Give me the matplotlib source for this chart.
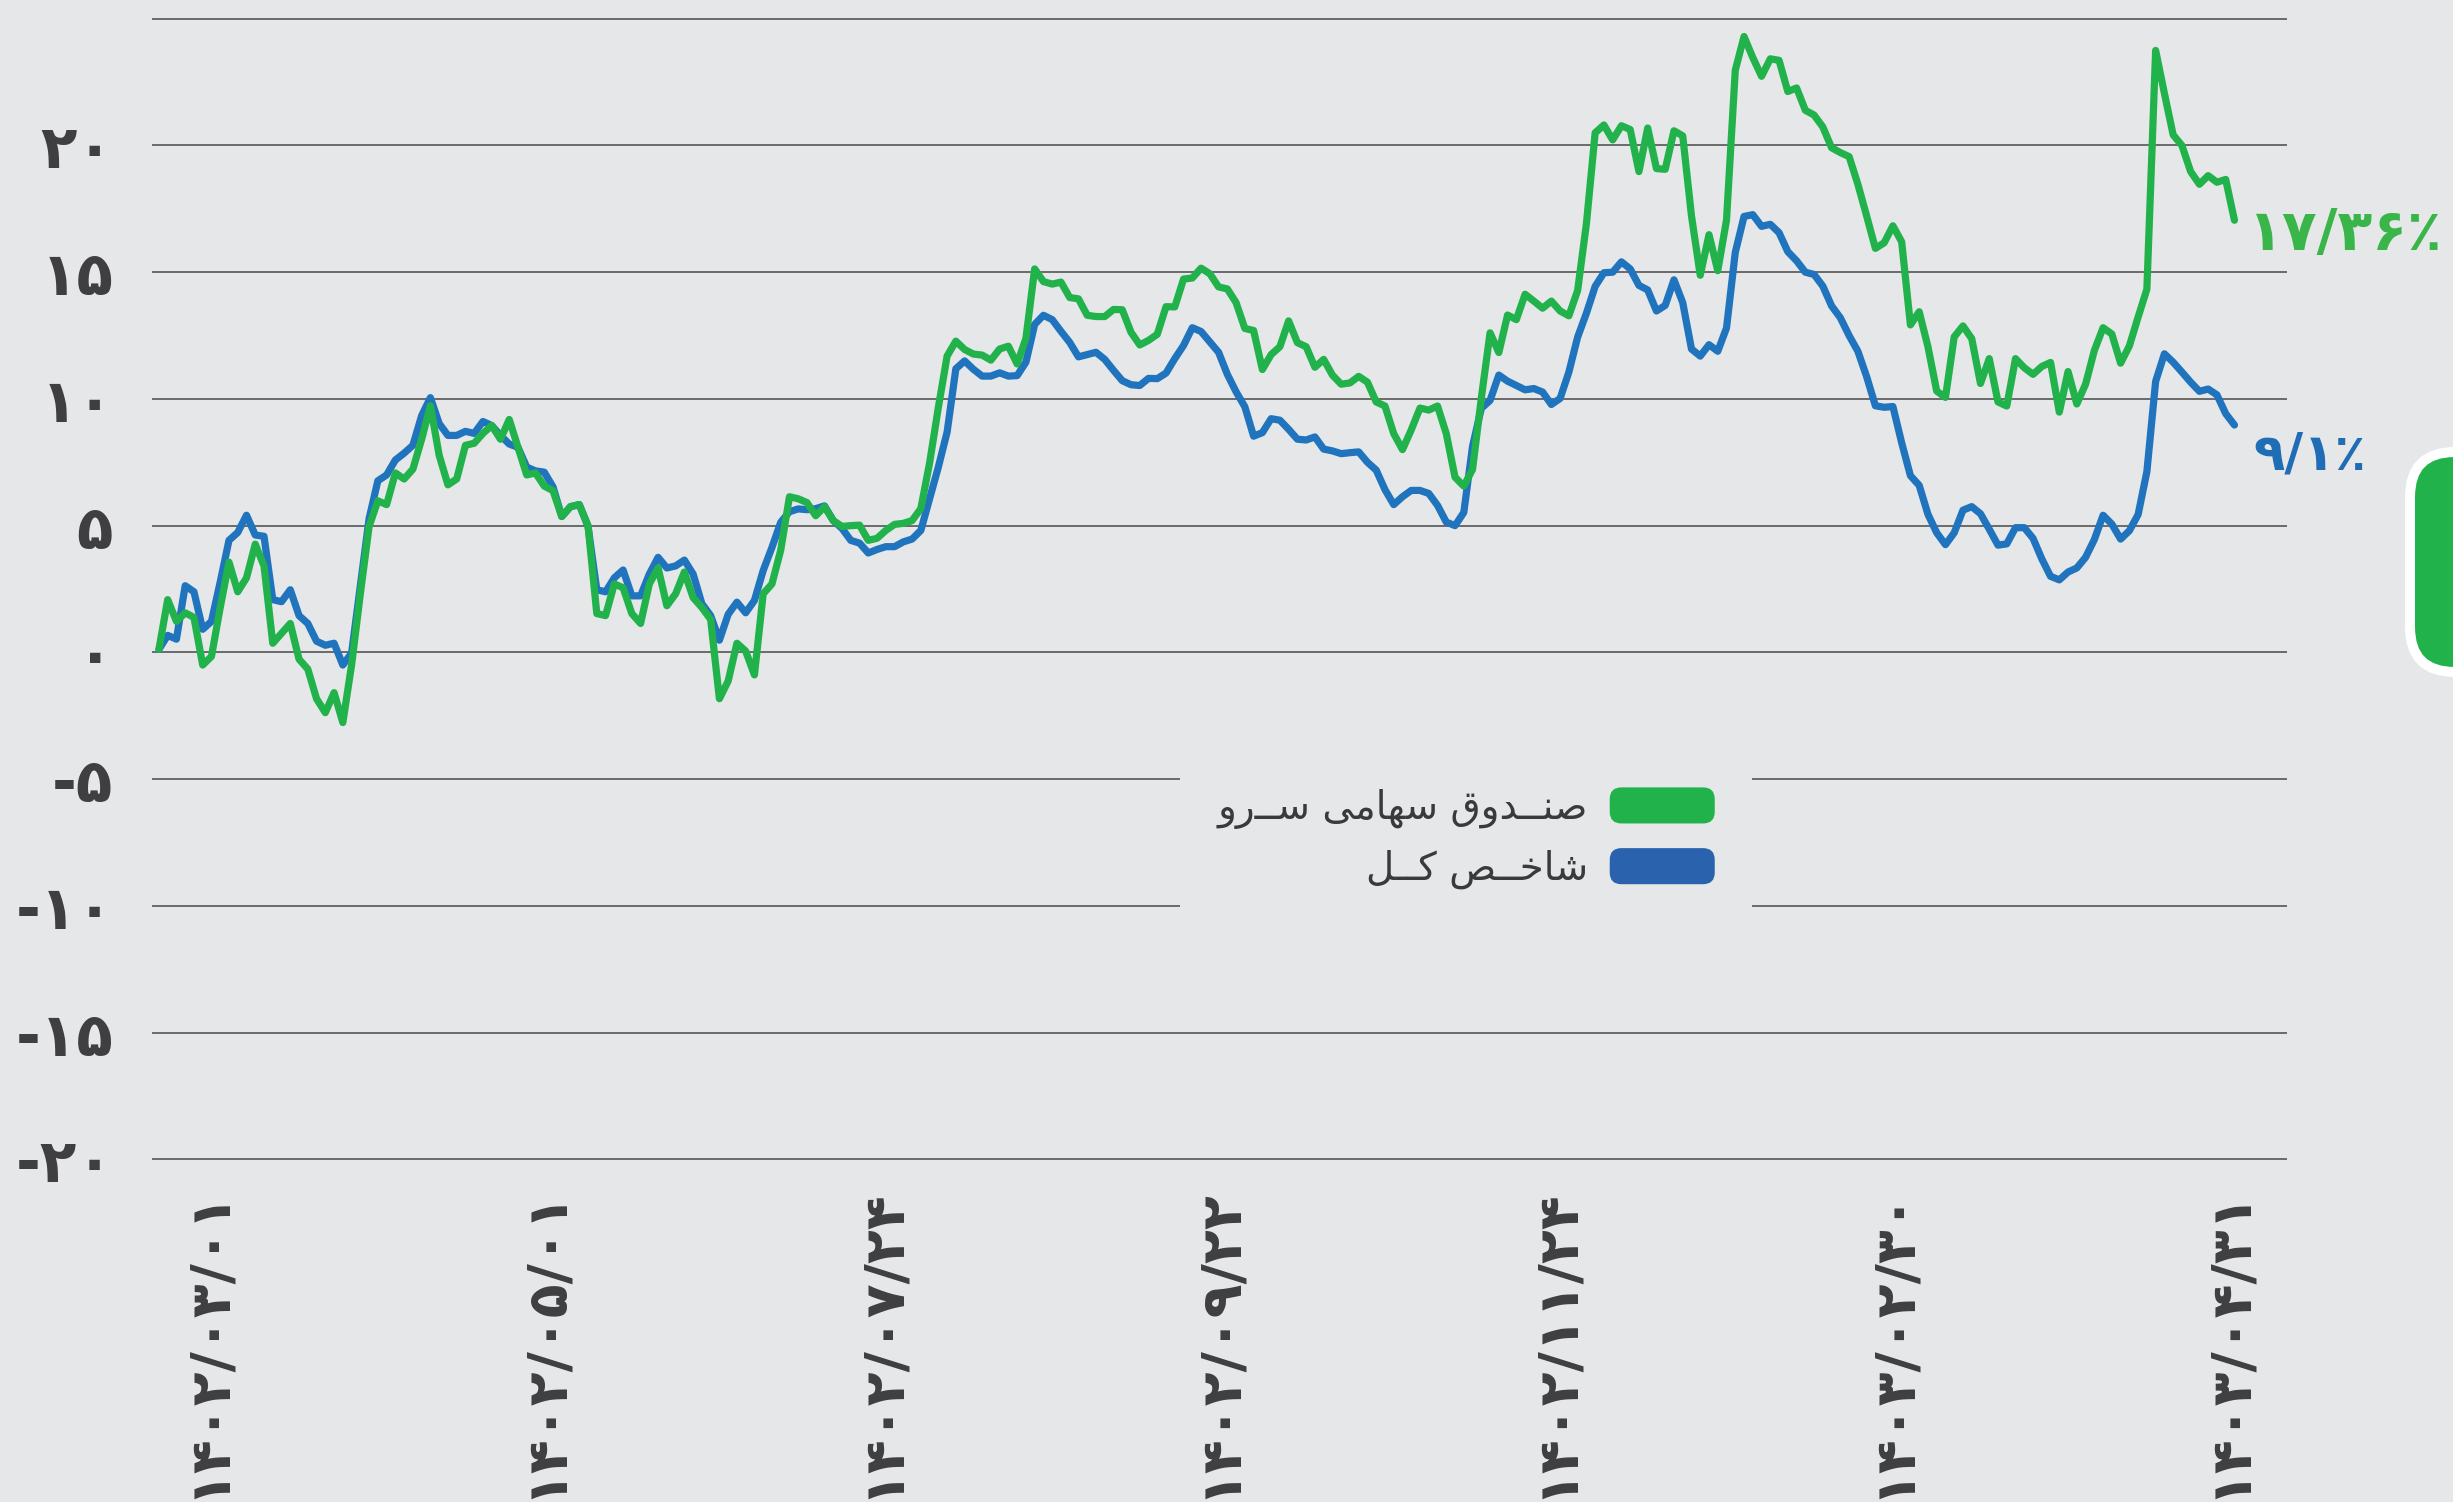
import numpy as np
import matplotlib
matplotlib.use("Agg")
import matplotlib.pyplot as plt
from matplotlib.patches import FancyBboxPatch, Patch
from matplotlib.legend_handler import HandlerPatch
from matplotlib.transforms import IdentityTransform

# ---------------- data ----------------
sarv = [
    0.12, 2.08, 1.22, 1.56, 1.38, -0.5, -0.16, 1.77, 3.56, 2.39,
    2.94, 4.27, 3.41, 0.36, 0.75, 1.14, -0.27, -0.66, -1.83, -2.38,
    -1.59, -2.77, -0.5, 2.31, 4.97, 5.98, 5.83, 7.08, 6.84, 7.23,
    8.41, 9.73, 7.78, 6.61, 6.84, 8.17, 8.25, 8.64, 8.95, 8.41,
    9.19, 8.09, 7.0, 7.08, 6.56, 6.38, 5.36, 5.75, 5.83, 5.0,
    1.53, 1.45, 2.70, 2.55, 1.53, 1.14, 2.70, 3.33, 1.84, 2.31,
    3.17, 2.16, 1.77,
    1.30, -1.83, -1.13, 0.36, 0.05, -0.89, 2.31, 2.70, 4.03, 6.14,
    6.06, 5.91, 5.39, 5.75, 5.2, 4.97, 5.0, 5.02, 4.42, 4.5,
    4.81, 5.05, 5.09, 5.2, 5.67, 7.47, 9.66, 11.69, 12.28, 11.95,
    11.77, 11.73, 11.53, 11.97, 12.08, 11.38, 12.39, 15.13, 14.63, 14.53,
    14.61, 14.0, 13.95, 13.3, 13.25, 13.25, 13.53, 13.52, 12.63, 12.13,
    12.31, 12.55, 13.64, 13.63, 14.73, 14.77, 15.16, 14.94, 14.42, 14.34,
    13.8, 12.78, 12.7,
    11.16, 11.75, 12.06, 13.08, 12.22, 12.06, 11.25, 11.56, 10.94, 10.58,
    10.63, 10.89, 10.66, 9.88, 9.72, 8.63, 8.0, 8.78, 9.64, 9.56,
    9.72, 8.63, 6.91, 6.56, 7.22, 10.03, 12.61, 11.83, 13.31, 13.13,
    14.13, 13.86, 13.58, 13.86, 13.47, 13.28, 14.28, 16.91, 20.5, 20.81,
    20.22, 20.78, 20.63, 18.97, 20.69, 19.09, 19.06, 20.58, 20.38, 17.22,
    14.88, 16.48, 15.06, 17.06, 22.97, 24.3, 23.47, 22.73, 23.42, 23.36,
    22.13, 22.27, 21.39,
    21.2, 20.73, 19.91, 19.72, 19.56, 18.47, 17.22, 15.94, 16.16, 16.83,
    16.2, 12.92, 13.44, 12.06, 10.31, 10.06, 12.45, 12.88, 12.38, 10.61,
    11.59, 9.88, 9.72, 11.59, 11.23, 10.97, 11.28, 11.44, 9.48, 11.08,
    9.8, 10.58, 11.91, 12.81, 12.56, 11.41, 12.09, 13.23, 14.33, 23.75,
    22.06, 20.42, 20.0, 18.97, 18.47, 18.81, 18.55, 18.66, 17.05,
]

total_index = [
    0.12, 0.67, 0.52, 2.63, 2.39, 0.91, 1.22, 2.78, 4.42, 4.73,
    5.41, 4.63, 4.58, 2.08, 2.0, 2.47, 1.45, 1.14, 0.44, 0.28,
    0.36, -0.5, -0.03, 2.63, 5.28, 6.77, 7.0, 7.59, 7.86, 8.17,
    9.34, 10.05, 9.03, 8.56, 8.56, 8.72, 8.64, 9.11, 8.95, 8.56,
    8.22, 8.09, 7.31, 7.16, 7.11, 6.53, 5.36, 5.75, 5.83, 4.97,
    2.47, 2.39, 2.94, 3.25, 2.23, 2.23, 3.09, 3.75, 3.33, 3.41,
    3.64, 3.09, 1.92,
    1.45, 0.48, 1.5, 1.98, 1.56, 2.05, 3.23, 4.14, 5.13, 5.55,
    5.66, 5.63, 5.67, 5.78, 5.2, 4.89, 4.42, 4.31, 3.92, 4.06,
    4.17, 4.17, 4.36, 4.47, 4.81, 6.06, 7.31, 8.69, 11.19, 11.5,
    11.17, 10.9, 10.9, 11.03, 10.9, 10.92, 11.45, 12.94, 13.3, 13.13,
    12.67, 12.23, 11.66, 11.75, 11.84, 11.56, 11.13, 10.72, 10.56, 10.53,
    10.81, 10.8, 11.02, 11.59, 12.11, 12.81, 12.66, 12.25, 11.84, 10.97,
    10.28, 9.69, 8.53,
    8.67, 9.22, 9.16, 8.80, 8.41, 8.38, 8.5, 8.02, 7.95, 7.84,
    7.88, 7.91, 7.5, 7.19, 6.42, 5.83, 6.14, 6.39, 6.39, 6.27,
    5.8, 5.14, 5.0, 5.52, 8.13, 9.63, 9.94, 10.94, 10.7, 10.53,
    10.36, 10.41, 10.27, 9.78, 10.02, 11.06, 12.44, 13.38, 14.44, 14.98,
    15.0, 15.41, 15.13, 14.48, 14.3, 13.47, 13.69, 14.7, 13.8, 11.97,
    11.69, 12.14, 11.88, 12.8, 15.78, 17.2, 17.27, 16.81, 16.89, 16.56,
    15.81, 15.45, 15.0,
    14.91, 14.45, 13.67, 13.2, 12.5, 11.88, 10.88, 9.73, 9.67, 9.7,
    8.27, 6.97, 6.59, 5.45, 4.72, 4.25, 4.72, 5.61, 5.75, 5.47,
    4.86, 4.23, 4.28, 4.92, 4.92, 4.5, 3.69, 3.0, 2.86, 3.17,
    3.33, 3.75, 4.45, 5.41, 5.06, 4.47, 4.8, 5.44, 7.13, 10.69,
    11.78, 11.45, 11.06, 10.66, 10.3, 10.39, 10.16, 9.42, 8.97,
]

x_labels = ["۱۴۰۲/۰۳/۰۱", "۱۴۰۲/۰۵/۰۱", "۱۴۰۲/۰۷/۲۴", "۱۴۰۲/۰۹/۲۲",
            "۱۴۰۲/۱۱/۲۴", "۱۴۰۳/۰۲/۳۰", "۱۴۰۳/۰۴/۳۱"]
y_ticks = [-20, -15, -10, -5, 0, 5, 10, 15, 20, 25]
y_labels = ["-۲۰", "-۱۵", "-۱۰", "-۵", "۰", "۵", "۱۰", "۱۵", "۲۰", ""]
series_names = ["صنــدوق سهامی ســرو", "شاخــص کــل"]
end_labels = ["۱۷/۳۶٪", "۹/۱٪"]

# ---------------- minimal Persian shaping ----------------
FORMS = {
    'ص': ('\uFEB9', '\uFEBA', '\uFEBB', '\uFEBC'),
    'ن': ('\uFEE5', '\uFEE6', '\uFEE7', '\uFEE8'),
    'د': ('\uFEA9', '\uFEAA', None, None),
    'و': ('\uFEED', '\uFEEE', None, None),
    'ق': ('\uFED5', '\uFED6', '\uFED7', '\uFED8'),
    'س': ('\uFEB1', '\uFEB2', '\uFEB3', '\uFEB4'),
    'ه': ('\uFEE9', '\uFEEA', '\uFEEB', '\uFEEC'),
    'ا': ('\uFE8D', '\uFE8E', None, None),
    'م': ('\uFEE1', '\uFEE2', '\uFEE3', '\uFEE4'),
    '\u06CC': ('\uFBFC', '\uFBFD', '\uFBFE', '\uFBFF'),
    'ش': ('\uFEB5', '\uFEB6', '\uFEB7', '\uFEB8'),
    'خ': ('\uFEA5', '\uFEA6', '\uFEA7', '\uFEA8'),
    '\u06A9': ('\uFB8E', '\uFB8F', '\uFB90', '\uFB91'),
    'ل': ('\uFEDD', '\uFEDE', '\uFEDF', '\uFEE0'),
}
TATWEEL = '\u0640'


def _joins_next(c):
    return c == TATWEEL or (c in FORMS and FORMS[c][2] is not None)


def _joins_prev(c):
    return c == TATWEEL or c in FORMS


def shape(s):
    s = s.replace('\u064A', '\u06CC').replace('\u0643', '\u06A9')
    out = []
    for i, c in enumerate(s):
        if c not in FORMS:
            out.append(c)
            continue
        prev = s[i - 1] if i > 0 else ''
        nxt = s[i + 1] if i + 1 < len(s) else ''
        p = prev != '' and _joins_next(prev)
        n = nxt != '' and _joins_prev(nxt) and FORMS[c][2] is not None
        iso, fin, ini, med = FORMS[c]
        out.append(med if (p and n) else ini if n else fin if p else iso)
    return ''.join(reversed(out))


class RoundHandler(HandlerPatch):
    def create_artists(self, legend, orig_handle, xdescent, ydescent,
                       width, height, fontsize, trans):
        p = FancyBboxPatch((-xdescent, -ydescent), width, height,
                           boxstyle="round,pad=0,rounding_size=%f" % (height * 0.32),
                           facecolor=orig_handle.get_facecolor(),
                           edgecolor='none', transform=trans)
        return [p]


# ---------------- style ----------------
BG = '#e6e7e8'
GREEN = '#22b24c'
BLUE = '#1f74bd'
GREEN_L = '#22b24b'
BLUE_L = '#2a62ae'
TXT = '#3f3f41'
W, H = 2453, 1502

plt.rcParams['font.family'] = ['DejaVu Sans']

fig = plt.figure(figsize=(W / 100, H / 100), dpi=100, facecolor=BG)
ax_left, ax_right = 152, 2287
ax_top, ax_bot = 6.1, 1171.9
ax = fig.add_axes([ax_left / W, 1 - ax_bot / H, (ax_right - ax_left) / W, (ax_bot - ax_top) / H])
ax.set_facecolor(BG)

x = np.arange(len(sarv))
ax.plot(x, total_index, color=BLUE, lw=5.2, solid_joinstyle='round',
        solid_capstyle='round', zorder=3)
ax.plot(x, sarv, color=GREEN, lw=5.2, solid_joinstyle='round',
        solid_capstyle='round', zorder=4)

ax.set_xlim(-0.79, 243.0)
ax.set_ylim(-20.5, 25.5)

for s in ax.spines.values():
    s.set_visible(False)
ax.yaxis.grid(True, color='#555555', lw=1.2)
ax.xaxis.grid(False)
ax.set_axisbelow(True)

ax.set_yticks(y_ticks)
ax.set_yticklabels(y_labels, fontsize=43, fontweight='bold', color=TXT)
ax.tick_params(axis='y', length=0, pad=28)

ax.set_xticks(np.linspace(5.6, 236.4, len(x_labels)))
ax.set_xticklabels(x_labels, rotation=90, fontsize=40, fontweight='bold',
                   color=TXT, ha='center', va='top')
ax.tick_params(axis='x', length=0, pad=11)

# end labels
last = len(sarv) - 1
ax.text(last + 1.6, sarv[-1] - 0.58, end_labels[0], color='#3ab54a', fontsize=41,
        fontweight='bold', ha='left', va='center', clip_on=False)
ax.text(last + 2.2, total_index[-1] - 1.2, end_labels[1], color='#1f6db5', fontsize=37,
        fontweight='bold', ha='left', va='center', clip_on=False)

# legend
handles = [Patch(facecolor=GREEN_L), Patch(facecolor=BLUE_L)]
leg = ax.legend(handles, [shape(n) for n in series_names], loc='center',
                bbox_to_anchor=(0.5977, 0.442), bbox_transform=fig.transFigure,
                frameon=True, facecolor=BG, edgecolor='none', framealpha=1,
                fancybox=False, markerfirst=False,
                handler_map={Patch: RoundHandler()},
                prop=dict(family='DejaVu Sans', size=28), labelcolor='#3a3a3c',
                handlelength=2.7, handleheight=1.05, handletextpad=0.56,
                labelspacing=0.5, borderpad=0.96)

# decorative pill on the right edge
pill = FancyBboxPatch((2410, H - 672), 110, 220,
                      boxstyle="round,pad=0,rounding_size=45",
                      facecolor=GREEN, edgecolor='white', lw=7.2,
                      transform=IdentityTransform())
fig.patches.append(pill)

fig.savefig('out.png', dpi=100, facecolor=BG)
